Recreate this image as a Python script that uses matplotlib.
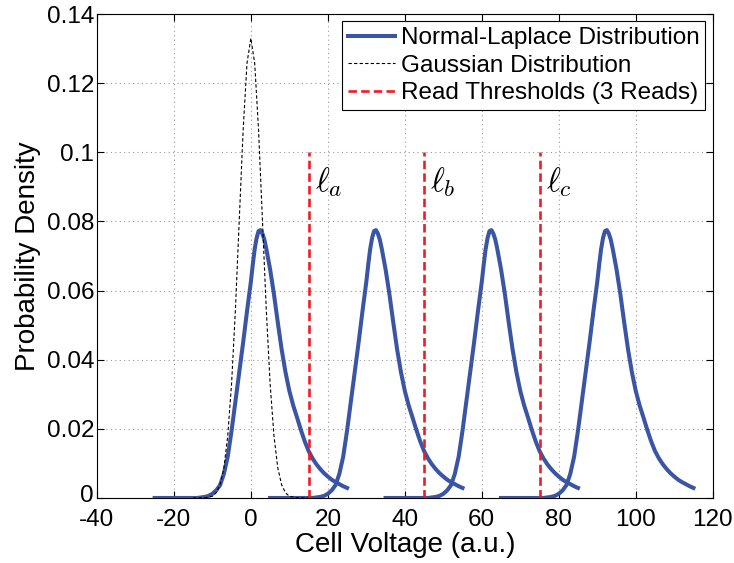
import matplotlib
matplotlib.use("Agg")
import matplotlib.pyplot as plt
import matplotlib.transforms as mtransforms

plt.rcParams['font.family'] = ['Liberation Sans', 'DejaVu Sans']
plt.rcParams['mathtext.fontset'] = 'cm'

# Normal-Laplace shape (offset from level, density)
nl_offset = [-25, -14, -12, -11, -10, -9, -8, -7, -6, -5, -4, -3, -2, -1, 0, 0.5, 1,
             1.5, 2, 2.5, 3, 3.5, 4, 5, 6, 7, 8, 9, 10, 11, 12, 13, 14, 15, 16, 17,
             18, 19, 20, 21, 22, 23, 24, 25]
nl_density = [0, 0, 0.0003, 0.0006, 0.0012, 0.0022, 0.0037, 0.0070, 0.0120, 0.0195,
              0.0280, 0.0365, 0.0450, 0.0540, 0.0625, 0.0675, 0.0720, 0.0752, 0.0772,
              0.0775, 0.0765, 0.0748, 0.0722, 0.0662, 0.0590, 0.0508, 0.0430, 0.0364,
              0.0310, 0.0268, 0.0233, 0.0197, 0.0164, 0.0136, 0.0115, 0.0098, 0.0084,
              0.0072, 0.0062, 0.0053, 0.0046, 0.0040, 0.0034, 0.0029]
levels = [0, 30, 60, 90]

# Gaussian curve
g_x = [-15, -12, -10, -9, -8, -7, -6, -5, -4, -3, -2, -1, 0,
       1, 2, 3, 4, 5, 6, 7, 8, 9, 10, 12, 15]
g_y = [0, 0.00004, 0.0005, 0.0015, 0.0038, 0.0087, 0.018, 0.0332, 0.0547, 0.0807,
       0.1065, 0.1258, 0.133, 0.1258, 0.1065, 0.0807, 0.0547, 0.0332, 0.018,
       0.0087, 0.0038, 0.0015, 0.0005, 0.00004, 0]

thresholds = [15, 45, 75]
threshold_top = 0.1
threshold_labels = [r'$\ell_a$', r'$\ell_b$', r'$\ell_c$']

x_ticks = [-40, -20, 0, 20, 40, 60, 80, 100, 120]
y_ticks = [0, 0.02, 0.04, 0.06, 0.08, 0.1, 0.12, 0.14]
y_ticklabels = ['0', '0.02', '0.04', '0.06', '0.08', '0.1', '0.12', '0.14']

blue = '#3A55A4'
red = '#EE1C25'

fig = plt.figure(figsize=(7.34, 5.63), dpi=100)
ax = fig.add_axes([0.132, 0.1155, 0.839, 0.8595])

for i, lv in enumerate(levels):
    ax.plot([lv + o for o in nl_offset], nl_density, color=blue, lw=2.9,
            solid_joinstyle='round',
            label='Normal-Laplace Distribution' if i == 0 else None, zorder=3)
ax.plot(g_x, g_y, color='black', lw=0.8, ls=(0, (3, 2)),
        label='Gaussian Distribution', zorder=4)
for i, t in enumerate(thresholds):
    ax.plot([t, t], [0, threshold_top], color=red, lw=1.9, ls=(0, (3.2, 1.6)),
            label='Read Thresholds (3 Reads)' if i == 0 else None, zorder=5)
    ax.text(t + 1.6, 0.0915, threshold_labels[i], fontsize=24, ha='left', va='center')

ax.set_xlim(-40, 120)
ax.set_ylim(0, 0.14)
ax.set_xticks(x_ticks)
ax.set_xticklabels([str(v) for v in x_ticks])
ax.set_yticks(y_ticks)
ax.set_yticklabels(y_ticklabels)
ax.tick_params(direction='in', top=True, right=True, labelsize=17.5, length=5,
               width=0.8, pad=2)
ax.tick_params(axis='x', pad=8)
ax.grid(True, ls=(0, (1, 3)), color='#999999', lw=0.8)
for s in ax.spines.values():
    s.set_linewidth(0.8)
ax.set_xlabel('Cell Voltage (a.u.)', fontsize=20, labelpad=1)
ax.set_ylabel('Probability Density', fontsize=20, labelpad=4)

# nudge the y "0" label up slightly so it does not collide with "-40"
zero_lbl = ax.get_yticklabels()[0]
zero_lbl.set_transform(zero_lbl.get_transform() +
                       mtransforms.ScaledTranslation(0, 3 / 72, fig.dpi_scale_trans))

leg = ax.legend(loc='upper right', fontsize=17.5, frameon=True, fancybox=False,
                edgecolor='black', framealpha=1, handlelength=1.9,
                handletextpad=0.25, borderpad=0.25, labelspacing=0.22,
                borderaxespad=0.3)
leg.get_frame().set_linewidth(0.8)

fig.savefig('out.png', dpi=100)
